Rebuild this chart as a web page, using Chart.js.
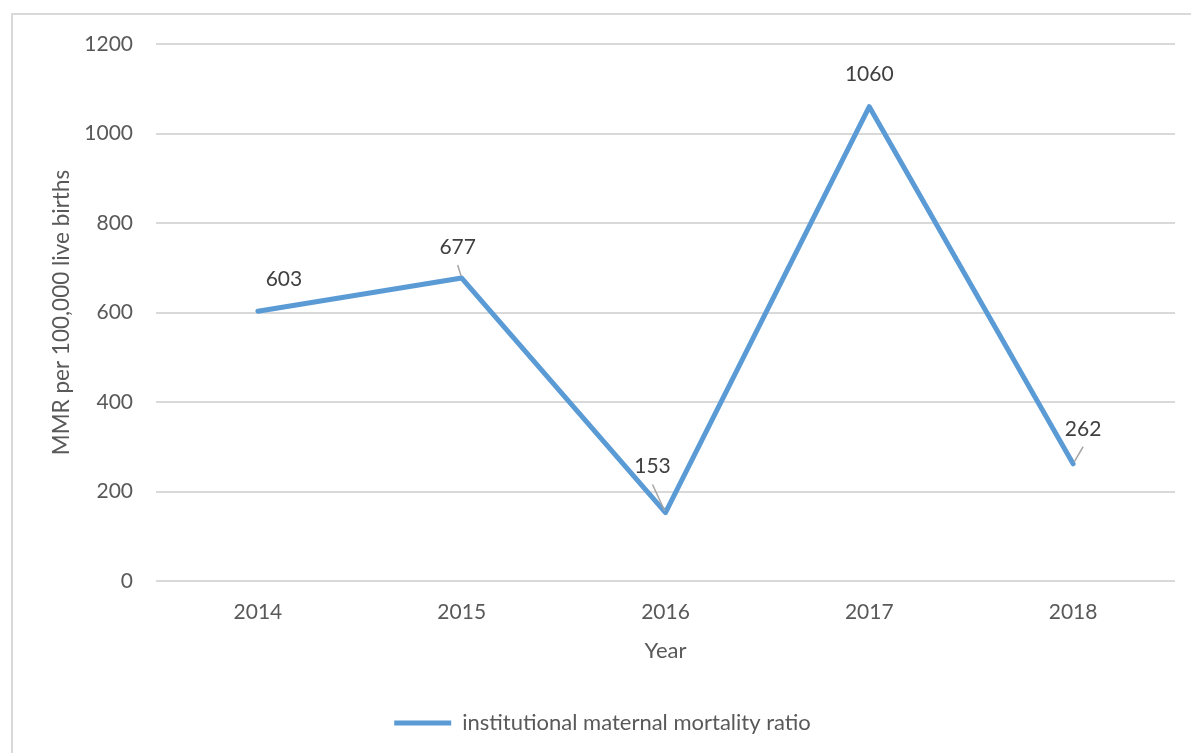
<!DOCTYPE html>
<html>
<head>
<meta charset="utf-8">
<script src="https://cdn.jsdelivr.net/npm/chart.js@4"></script>
<style>
  html, body { margin: 0; padding: 0; background: #fff; overflow: hidden; }
  canvas { display: block; }
</style>
</head>
<body>
<canvas id="myChart" width="1191" height="753"></canvas>
<script>
// data
const years = ['2014', '2015', '2016', '2017', '2018'];
const mmr = [603, 677, 153, 1060, 262];
const yTicks = [0, 200, 400, 600, 800, 1000, 1200];

const FONT = 'Lato, "Open Sans", sans-serif';

// where each value label sits relative to its point (px), and whether it has a leader line
const labelOffsets = [[26, -32], [-4, -31], [-13, -46], [0, -32], [10, -35]];
const leaders = [false, true, true, false, true];

window.onload = function(){
    // frame around the whole chart, like the office chart border
    const framePlugin = {
        id: 'frame',
        beforeDraw(chart) {
            const ctx = chart.ctx;
            ctx.save();
            ctx.fillStyle = '#fff';
            ctx.fillRect(0, 0, chart.width, chart.height);
            ctx.strokeStyle = '#d9d9d9';
            ctx.lineWidth = 2;
            ctx.strokeRect(12, 14, chart.width + 20, chart.height + 20);
            ctx.restore();
        }
    };

    const valueLabels = {
        id: 'valueLabels',
        afterDatasetsDraw(chart) {
            const ctx = chart.ctx;
            const meta = chart.getDatasetMeta(0);
            ctx.save();
            ctx.font = '21px ' + FONT;
            ctx.fillStyle = '#404040';
            ctx.textAlign = 'center';
            ctx.textBaseline = 'middle';
            meta.data.forEach((pt, i) => {
                const lx = pt.x + labelOffsets[i][0];
                const ly = pt.y + labelOffsets[i][1];
                ctx.fillText(String(mmr[i]), lx, ly);
                if (leaders[i]) {
                    const sx = lx, sy = ly + 18;
                    const dx = pt.x - sx, dy = pt.y - sy;
                    const len = Math.sqrt(dx * dx + dy * dy);
                    ctx.beginPath();
                    ctx.strokeStyle = '#a6a6a6';
                    ctx.lineWidth = 1.5;
                    ctx.moveTo(sx, sy);
                    ctx.lineTo(pt.x - dx / len * 2, pt.y - dy / len * 2);
                    ctx.stroke();
                }
            });
            ctx.restore();
        }
    };

    const data = {
        labels: years,
        datasets: [{
            label: 'institutional maternal mortality ratio',
            data: mmr,
            borderColor: '#5b9bd5',
            backgroundColor: '#5b9bd5',
            borderWidth: 5,
            borderCapStyle: 'round',
            borderJoinStyle: 'round',
            pointRadius: 0,
            pointStyle: 'line',
            tension: 0
        }]
    };

    const config = {
        type: 'line',
        data: data,
        options: {
            responsive: false,
            animation: false,
            layout: {
                padding: { left: 30, right: 16, top: 44, bottom: 9 }
            },
            plugins: {
                legend: {
                    position: 'bottom',
                    labels: {
                        usePointStyle: true,
                        pointStyleWidth: 57,
                        boxWidth: 57,
                        boxHeight: 5,
                        padding: 10,
                        color: '#595959',
                        font: { family: FONT, size: 22 }
                    }
                },
                tooltip: { enabled: false }
            },
            scales: {
                x: {
                    offset: true,
                    grid: { display: false },
                    border: { display: false },
                    ticks: {
                        color: '#595959',
                        padding: 11,
                        font: { family: FONT, size: 21 }
                    },
                    title: {
                        display: true,
                        text: 'Year',
                        color: '#595959',
                        padding: { top: 0, bottom: 38 },
                        font: { family: FONT, size: 22 }
                    },
                    afterFit(scale) { scale.height = 121; }
                },
                y: {
                    min: 0,
                    max: 1200,
                    afterBuildTicks(scale) {
                        scale.ticks = yTicks.map(v => ({ value: v }));
                    },
                    grid: {
                        color: '#d9d9d9',
                        lineWidth: 2,
                        drawTicks: false
                    },
                    border: { display: false },
                    ticks: {
                        color: '#595959',
                        padding: 23,
                        font: { family: FONT, size: 21 },
                        callback: v => String(v)
                    },
                    title: {
                        display: true,
                        text: 'MMR per 100,000 live births',
                        color: '#595959',
                        padding: { top: 18, bottom: 0 },
                        font: { family: FONT, size: 22.5 }
                    },
                    afterFit(scale) { scale.width = 126; }
                }
            }
        },
        plugins: [framePlugin, valueLabels]
    };

    const myChart = new Chart(document.getElementById('myChart'), config);
};
</script>
</body>
</html>
